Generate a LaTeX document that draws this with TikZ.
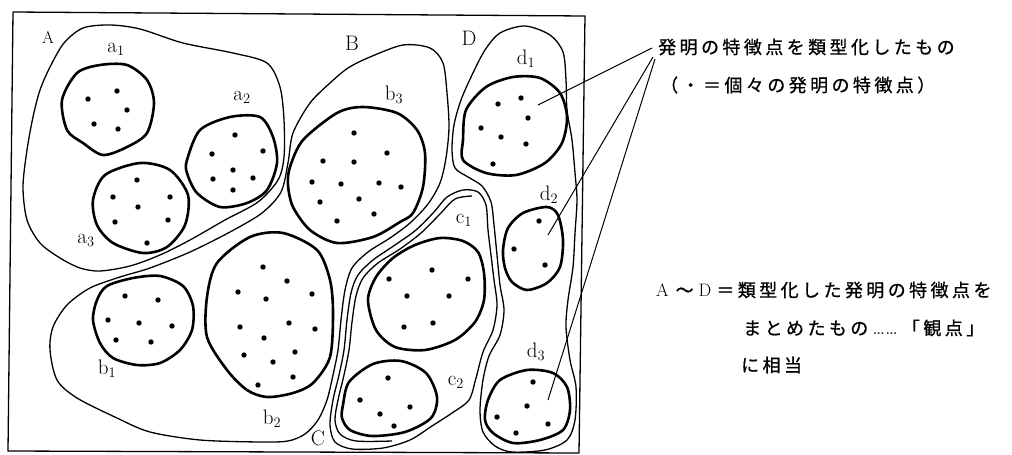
\documentclass[tikz,border=0pt]{standalone}
\usepackage{fontspec}
\newfontfamily\jpfont[LetterSpace=19,FakeBold=0.8]{Noto Sans CJK JP}
\begin{document}
\begin{tikzpicture}[x=1pt,y=-1pt,line join=round,
  every node/.style={inner sep=0pt},
  region/.style={line width=1.3pt},
  blob/.style={line width=2.6pt},
  lbl/.style={font=\fontsize{21}{24}\selectfont},
  jptext/.style={anchor=west,font=\jpfont\fontsize{18}{21}\selectfont},
  leader/.style={line width=1pt}]
  \def\dotr{2.7pt}
  \useasboundingbox (0,0) rectangle (1012,455);
  \draw[line width=1.3pt] (13,12) -- (585,16) -- (579,453) -- (8,451) -- cycle;

  % regions A--D
  \draw[region] plot[smooth cycle] coordinates {(83,28) (110,25) (140,29) (183,43) (233,53) (267,63) (280,87) (284,120) (284,157) (278,180) (258,202) (225,220) (190,240) (160,255) (130,266) (100,271) (80,268) (60,258) (40,243) (27,220) (23,187) (27,150) (33,117) (40,90) (50,67) (64,43)};
  \draw[region] plot[smooth cycle] coordinates {(370,57) (403,45) (430,48) (443,63) (447,93) (449,127) (446,158) (440,183) (428,204) (410,223) (390,238) (368,252) (352,268) (345,290) (341,320) (338,350) (333,375) (327,400) (318,420) (305,434) (288,441) (260,442) (200,440) (150,432) (117,418) (77,398) (57,380) (50,350) (53,327) (67,305) (90,288) (120,277) (150,268) (190,252) (230,232) (262,213) (281,192) (288,163) (293,133) (310,103) (330,83) (348,68)};
  \draw[region] plot[smooth cycle] coordinates {(447,197) (463,190) (478,192) (486,205) (488,230) (491,255) (494,280) (497,305) (493,330) (483,352) (476,378) (469,400) (452,413) (432,426) (410,440) (383,448) (352,449) (335,442) (330,425) (333,400) (339,375) (344,350) (347,320) (351,293) (358,275) (373,260) (395,245) (416,230) (434,212)};
  \draw[region] plot[smooth] coordinates {(472,196) (455,199) (440,214) (421,233) (400,249) (378,263) (363,278) (356,296) (352,322) (349,350) (344,375) (338,400) (335,420) (340,434) (356,441) (392,441)};
  \draw[region] plot[smooth cycle] coordinates {(500,33) (525,26) (550,35) (563,52) (566,80) (567,110) (572,140) (575,173) (577,200) (575,233) (573,267) (568,300) (566,327) (570,360) (576,387) (575,420) (567,440) (545,450) (512,452) (495,446) (483,432) (480,410) (483,380) (489,356) (500,335) (504,310) (500,285) (497,255) (494,225) (491,202) (482,186) (468,177) (455,168) (452,150) (454,125) (461,100) (472,75) (485,50)};

  % groups
  \draw[blob] plot[smooth cycle] coordinates {(62,100) (77,73) (100,65) (127,65) (147,80) (154,103) (147,133) (127,147) (103,155) (83,143) (67,130)};
  \draw[blob] plot[smooth cycle] coordinates {(187,160) (200,130) (230,117) (260,117) (273,137) (277,163) (267,190) (247,203) (220,207) (197,193) (187,173)};
  \draw[blob] plot[smooth cycle] coordinates {(93,200) (105,175) (140,163) (170,170) (188,195) (185,225) (167,247) (143,253) (113,243) (97,225)};
  \draw[blob] plot[smooth cycle] coordinates {(97,300) (107,286) (133,278) (160,276) (183,286) (193,306) (192,330) (180,350) (160,363) (137,365) (113,358) (100,343) (93,320)};
  \draw[blob] plot[smooth cycle] coordinates {(207,297) (217,263) (250,237) (283,233) (317,250) (330,280) (333,313) (330,357) (313,383) (293,393) (267,397) (247,390) (227,370) (207,337)};
  \draw[blob] plot[smooth cycle] coordinates {(290,167) (303,140) (337,113) (363,107) (397,113) (417,130) (425,153) (423,187) (413,213) (400,222) (373,237) (337,243) (310,230) (293,207) (288,185)};
  \draw[blob] plot[smooth cycle] coordinates {(368,300) (376,277) (393,258) (415,245) (440,238) (463,241) (478,252) (484,273) (484,300) (475,322) (455,340) (425,350) (395,347) (376,330)};
  \draw[blob] plot[smooth cycle] coordinates {(343,405) (349,382) (373,364) (401,361) (426,373) (437,397) (431,418) (405,432) (372,436) (350,430) (342,418)};
  \draw[blob] plot[smooth cycle] coordinates {(463,140) (466,110) (486,87) (513,77) (540,78) (560,93) (567,117) (562,143) (545,163) (516,175) (486,173) (463,160)};
  \draw[blob] plot[smooth cycle] coordinates {(503,250) (508,228) (523,213) (547,207) (558,215) (563,240) (560,267) (547,283) (527,290) (512,282) (505,268)};
  \draw[blob] plot[smooth cycle] coordinates {(485,420) (488,400) (500,380) (527,370) (553,373) (567,387) (570,410) (563,430) (540,440) (513,443) (493,433)};

  % feature points
  \foreach \x/\y in {88/99,117/91,127/110,94/124,118/129,
      235/135,212/154,263/151,233/170,213/179,253/178,233/190,
      137/180,113/197,170/197,138/207,115/222,168/220,147/243,
      125/296,158/300,108/320,139/323,172/326,116/340,151/342,
      263/267,287/281,238/292,266/299,312/294,240/327,289/323,315/329,
      264/338,244/355,273/362,295/352,293/377,258/385,
      354/133,323/161,354/162,387/153,312/182,341/184,379/183,401/187,
      320/202,359/199,337/221,374/214,
      432/270,389/279,468/279,407/296,449/296,404/327,433/323,
      388/378,360/400,410/407,380/414,394/426,
      498/104,521/98,528/118,481/128,501/137,526/144,493/164,
      539/221,514/249,545/265,
      533/382,527/406,497/417,548/424,516/433}
    \fill (\x,\y) circle (\dotr);

  \node[lbl,font=\fontsize{17}{20}\selectfont] (labA) at (48,37) {A};
  \node[lbl] (labB) at (352,43) {B};
  \node[lbl] (labC) at (318,438) {C};
  \node[lbl] (labD) at (469,38) {D};
  \node[lbl] (laba1) at (116,49) {a$_1$};
  \node[lbl] (laba2) at (242,97) {a$_2$};
  \node[lbl] (laba3) at (86,240) {a$_3$};
  \node[lbl] (labb1) at (107,369) {b$_1$};
  \node[lbl] (labb2) at (272,419) {b$_2$};
  \node[lbl] (labb3) at (394,95) {b$_3$};
  \node[lbl] (labc1) at (464,220) {c$_1$};
  \node[lbl] (labc2) at (456,382) {c$_2$};
  \node[lbl] (labd1) at (526,59) {d$_1$};
  \node[lbl] (labd2) at (549,195) {d$_2$};
  \node[lbl] (labd3) at (536,352) {d$_3$};

  \node[jptext] (feat) at (658,47) {発明の特徴点を類型化したもの};
  \node[jptext] (featnote) at (660,85) {（・＝個々の発明の特徴点）};
  \node[jptext] (view) at (656,290)
    {{\rmfamily A}\hspace{7pt}〜\hspace{5pt}{\rmfamily D}\hspace{5pt}＝類型化した発明の特徴点を};
  \node[jptext] (viewb) at (743,328)
    {まとめたもの\hspace{4pt}{\rmfamily\fontsize{22}{24}\selectfont ……}\hspace{4pt}「観点」};
  \node[jptext] (viewc) at (741,365) {に相当};

  \coordinate (src1) at (652,48);
  \coordinate (src2) at (653,57);
  \coordinate (src3) at (655,59);
  \coordinate (in1) at (538,105);
  \coordinate (in2) at (548,235);
  \coordinate (in3) at (548,400);
  \draw[leader] (src1) -- (in1);
  \draw[leader] (src2) -- (in2);
  \draw[leader] (src3) -- (in3);
\end{tikzpicture}
\end{document}
